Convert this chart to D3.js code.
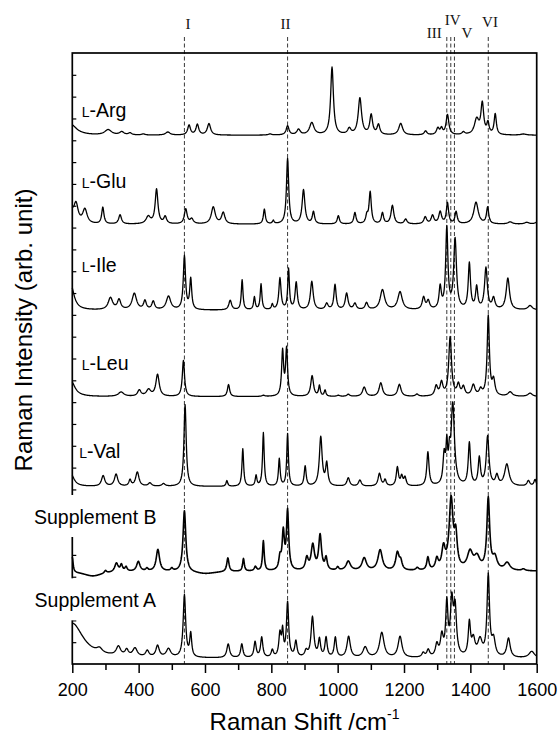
<!DOCTYPE html>
<html>
<head>
<meta charset="utf-8">
<script src="https://cdn.jsdelivr.net/npm/d3@7/dist/d3.min.js"></script>
<style>
body { margin: 0; background: #fff; }
svg { display: block; }
</style>
</head>
<body>
<div id="chart"></div>
<script>
// x axis
var shiftTicks = [200, 400, 600, 800, 1000, 1200, 1400, 1600];
var shiftMinorTicks = [300, 500, 700, 900, 1100, 1300, 1500];

// marked bands (cm-1)
var bandPositions = [538, 849, 1329, 1341, 1352, 1454];
var bandLabels = ["I", "II", "III", "IV", "V", "VI"];

// spectra, top to bottom
var spectrumNames = ["L-Arg", "L-Glu", "L-Ile", "L-Leu", "L-Val", "Supplement B", "Supplement A"];
var spectrumOffsets = [24.23, 20.15, 16.21, 12.25, 8.13, 4.25, 0.26];

// peaks: [centre cm-1, height, half width]
var argPeaks = [[195,0.5,22],[308,0.24,12],[349,0.14,8],[374,0.09,6],[414,0.05,6],[488,0.14,8],
	[552,0.45,5],[577,0.48,5],[612,0.52,6],[796,0.05,6],[849,0.42,5],[882,0.25,6],[922,0.56,8],
	[983,3.1,5],[1035,0.27,6],[1067,1.68,6],[1101,0.9,5],[1123,0.45,5],[1190,0.53,7],[1265,0.18,5],
	[1302,0.3,5],[1313,0.27,4],[1331,0.92,5],[1379,0.12,5],[1419,0.7,8],[1436,1.4,5],[1453,0.5,4],
	[1475,0.95,4],[1560,0.05,10]];
var gluPeaks = [[200,0.4,6],[211,0.9,8],[238,0.65,8],[292,0.76,4],[344,0.42,5],[429,0.33,8],
	[454,1.58,5],[480,0.32,5],[542,0.68,5],[560,0.22,6],[625,0.78,7],[655,0.52,6],[779,0.68,3.5],
	[806,0.15,3],[849,3.0,4],[897,1.56,5],[927,0.55,4],[1002,0.38,4],[1052,0.52,4],[1088,0.35,4],
	[1098,1.45,4],[1135,0.5,4],[1165,0.85,5],[1205,0.22,5],[1264,0.32,5],[1286,0.38,5],[1309,0.55,5],
	[1331,0.95,4],[1357,0.55,4],[1417,1.0,8],[1452,0.75,4],[1520,0.1,8],[1570,0.08,8],[1605,0.2,6]];
var ilePeaks = [[195,1.2,12],[315,0.55,8],[341,0.45,6],[387,0.75,8],[419,0.4,5],[444,0.38,5],
	[490,0.62,8],[538,2.45,4],[557,1.4,3.5],[676,0.44,5],[712,1.38,3],[749,0.58,3],[769,1.18,3],
	[803,0.24,3],[826,1.45,4],[852,1.85,3],[875,1.25,4],[922,1.3,5],[967,0.28,5],[992,1.15,4],
	[1027,0.75,5],[1052,0.28,5],[1087,0.32,5],[1135,0.92,8],[1188,0.82,8],[1259,0.55,5],[1273,0.38,5],
	[1309,1.0,4],[1329,3.7,4],[1354,3.2,5],[1397,2.1,4],[1419,1.0,4],[1447,1.9,5],[1470,0.5,5],
	[1513,1.45,6],[1580,0.2,8]];
var leuPeaks = [[195,0.75,15],[347,0.2,10],[402,0.28,6],[430,0.3,8],[457,1.0,6],[535,1.65,4],
	[671,0.55,4],[776,0.05,5],[834,2.05,3.5],[846,2.15,3.5],[923,0.95,5],[945,0.48,3],[962,0.28,3],
	[1002,0.05,5],[1032,0.1,5],[1080,0.43,6],[1130,0.62,6],[1186,0.55,6],[1239,0.1,5],[1297,0.45,5],
	[1313,0.6,5],[1339,2.7,5],[1364,0.5,5],[1379,0.4,5],[1409,0.5,6],[1431,0.28,5],[1454,3.65,4],
	[1470,0.7,5],[1520,0.2,8],[1580,0.15,8]];
var valPeaks = [[195,0.6,12],[293,0.48,6],[332,0.55,6],[374,0.28,4],[396,0.65,6],[434,0.15,6],
	[475,0.12,6],[540,3.75,4],[666,0.26,3],[714,1.72,3],[754,0.48,3],[776,2.45,3],[824,1.25,3],
	[849,2.4,3],[902,0.92,3.5],[949,2.25,5],[967,1.0,4],[1032,0.38,5],[1067,0.28,5],[1126,0.58,5],
	[1143,0.28,4],[1180,0.85,4],[1193,0.42,4],[1203,0.38,4],[1272,1.55,4],[1321,1.3,4],[1329,1.6,3],
	[1337,1.0,3],[1347,3.7,6],[1397,1.95,4],[1427,1.25,4],[1452,2.25,5],[1480,0.45,5],[1510,1.0,8],
	[1575,0.25,5],[1595,0.3,4]];
var suppBPeaks = [[200,0.7,3],[262,-0.22,35],[300,0.12,4],[333,0.4,6],[348,0.3,4],[362,0.2,4],
	[399,0.45,6],[425,0.12,4],[458,1.0,6],[500,0.12,4],[538,2.8,5],[600,-0.12,40],[669,0.63,4],
	[716,0.58,3],[752,0.2,4],[776,1.38,3],[826,0.55,4],[836,1.7,4],[849,2.7,4],[907,0.55,5],
	[925,1.15,6],[947,1.6,5],[965,0.55,4],[1000,0.15,4],[1032,0.43,8],[1080,0.58,8],[1128,0.95,8],
	[1180,0.8,6],[1190,0.38,5],[1240,0.12,5],[1272,0.58,4],[1299,0.48,5],[1319,0.95,6],[1342,3.2,7],
	[1356,1.4,5],[1399,0.8,10],[1420,0.55,10],[1454,3.25,5],[1474,0.55,8],[1511,0.35,10],[1560,0.08,6]];
var suppAPeaks = [[200,1.6,40],[282,0.2,10],[339,0.42,8],[364,0.28,6],[389,0.38,8],[426,0.28,6],
	[457,0.52,6],[490,0.38,8],[538,2.85,4.5],[557,1.05,3.5],[670,0.63,5],[711,0.63,4],[751,0.72,4],
	[771,0.92,4],[803,0.33,4],[826,1.05,4],[834,1.1,3],[849,2.5,4],[874,0.72,4],[905,0.28,5],
	[924,1.85,5],[945,0.8,4],[965,0.9,4],[993,0.92,4],[1033,0.97,6],[1083,0.48,8],[1133,1.15,8],
	[1188,0.97,7],[1258,0.2,5],[1273,0.33,5],[1299,0.55,5],[1314,0.92,5],[1329,2.35,4],[1344,2.4,5],
	[1354,2.1,5],[1397,1.5,4],[1409,0.75,6],[1429,0.75,8],[1454,3.7,4.5],[1470,0.75,6],[1515,0.88,6],
	[1585,0.3,10]];
var spectrumPeaks = [argPeaks, gluPeaks, ilePeaks, leuPeaks, valPeaks, suppBPeaks, suppAPeaks];

var width = 560, height = 740;
var plotLeft = 72.3, plotRight = 536.7, plotTop = 53, plotBottom = 664;

var svg = d3.select("#chart")
	.append("svg")
	.attr("width", width)
	.attr("height", height)
	.attr("viewBox", "0 0 " + width + " " + height);

var x = d3.scaleLinear().domain([200, 1600]).range([plotLeft, plotRight]);
var y = d3.scaleLinear().domain([0, 28]).range([plotBottom, plotTop]);

var sans = "'Liberation Sans', Arial, Helvetica, sans-serif";
var serif = "'Liberation Serif', 'Times New Roman', serif";

// band markers
var bandLabelPos = [[3.5, 29], [-2, 29], [-12.5, 38], [2, 25], [12.5, 37.7], [1.7, 26.7]];
svg.append("g").selectAll("line")
	.data(bandPositions)
	.enter().append("line")
	.attr("x1", function(d){ return x(d); })
	.attr("x2", function(d){ return x(d); })
	.attr("y1", 37)
	.attr("y2", plotBottom)
	.attr("stroke", "#222")
	.attr("stroke-width", 0.9)
	.attr("stroke-dasharray", "4,2.5");
svg.append("g").selectAll("text")
	.data(bandLabels)
	.enter().append("text")
	.attr("x", function(d, i){ return x(bandPositions[i]) + bandLabelPos[i][0]; })
	.attr("y", function(d, i){ return bandLabelPos[i][1]; })
	.attr("text-anchor", "middle")
	.attr("font-family", serif)
	.attr("font-size", "15px")
	.attr("fill", "#111")
	.text(function(d){ return d; });

// spectra
var grid = d3.range(200, 1600.5, 1);
function spectrum(peaks, offset){
	return grid.map(function(w){
		var v = offset;
		peaks.forEach(function(p){
			var t = (w - p[0]) / p[2];
			v += p[1] / (1 + t * t);
		});
		return [w, v];
	});
}
var line = d3.line()
	.x(function(d){ return x(d[0]); })
	.y(function(d){ return y(d[1]); });

svg.append("g").selectAll("path")
	.data(spectrumPeaks)
	.enter().append("path")
	.attr("d", function(d, i){ return line(spectrum(d, spectrumOffsets[i])); })
	.attr("fill", "none")
	.attr("stroke", "#000")
	.attr("stroke-width", function(d, i){ return i == 5 ? 1.6 : 1.3; })
	.attr("stroke-linejoin", "round");

// axes
var yAxis = d3.axisLeft(y).tickValues(d3.range(1, 28)).tickSize(-4).tickFormat("");
var gy = svg.append("g").attr("transform", "translate(" + plotLeft + ",0)").call(yAxis);
gy.select(".domain").remove();
gy.selectAll("line").attr("stroke", "#000").attr("stroke-width", 1.2);

var xMinor = d3.axisBottom(x).tickValues(shiftMinorTicks).tickSize(6).tickFormat("");
var gxm = svg.append("g").attr("transform", "translate(0," + plotBottom + ")").call(xMinor);
gxm.select(".domain").remove();
gxm.selectAll("line").attr("stroke", "#000").attr("stroke-width", 1.5);

var xAxis = d3.axisBottom(x).tickValues(shiftTicks).tickSize(9).tickPadding(10).tickFormat(d3.format("d"));
var gx = svg.append("g").attr("transform", "translate(0," + plotBottom + ")").call(xAxis);
gx.select(".domain").remove();
gx.selectAll("line").attr("stroke", "#000").attr("stroke-width", 1.5);
gx.selectAll("text")
	.attr("font-family", sans)
	.attr("font-size", "18px")
	.attr("fill", "#000");

// frame
svg.append("rect")
	.attr("x", plotLeft)
	.attr("y", plotTop)
	.attr("width", plotRight - plotLeft)
	.attr("height", plotBottom - plotTop)
	.attr("fill", "none")
	.attr("stroke", "#000")
	.attr("stroke-width", 1.7);

// spectrum labels
var labelPos = [[81.7, 116.7], [81.7, 188.3], [81.7, 272], [81.7, 370], [79.3, 458.3], [34, 524], [34.6, 607.3]];
spectrumNames.forEach(function(name, i){
	var p = labelPos[i];
	if (name.indexOf("L-") != 0) {
		// these labels sit on a white box that cuts the left axis
		svg.append("rect")
			.attr("x", p[0] - 4)
			.attr("y", p[1] - 29)
			.attr("width", 132)
			.attr("height", 42)
			.attr("fill", "#fff");
	}
	var t = svg.append("text")
		.attr("x", p[0])
		.attr("y", p[1])
		.attr("font-family", sans)
		.attr("font-size", "19.5px")
		.attr("fill", "#000");
	if (name.indexOf("L-") == 0) {
		t.append("tspan").attr("font-size", "14px").text("L");
		t.append("tspan").text(name.slice(1));
	} else {
		t.text(name);
	}
});

// axis titles
svg.append("text")
	.attr("transform", "translate(32,330) rotate(-90)")
	.attr("text-anchor", "middle")
	.attr("font-family", sans)
	.attr("font-size", "24px")
	.attr("fill", "#000")
	.text("Raman Intensity (arb. unit)");

var xt = svg.append("text")
	.attr("x", (plotLeft + plotRight) / 2)
	.attr("y", 730)
	.attr("text-anchor", "middle")
	.attr("font-family", sans)
	.attr("font-size", "24px")
	.attr("fill", "#000");
xt.append("tspan").text("Raman Shift /cm");
xt.append("tspan").attr("font-size", "14px").attr("dy", "-11").text("-1");
</script>
</body>
</html>
